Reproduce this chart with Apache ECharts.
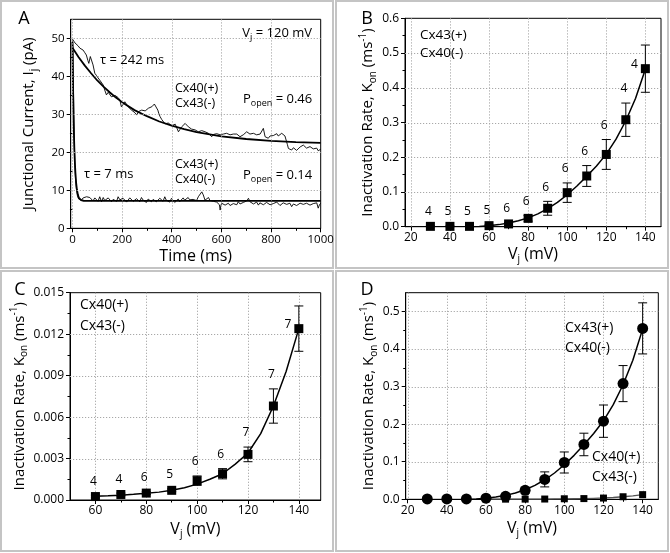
<!DOCTYPE html>
<html><head><meta charset="utf-8">
<script src="https://cdn.jsdelivr.net/npm/echarts@6/dist/echarts.min.js"></script>
<style>html,body{margin:0;padding:0;background:#fff}#c{width:670px;height:553px}</style>
</head><body><div id="c"></div>
<script>
// ---------- Panel A: junctional current traces (time ms, current pA) ----------
const upperTrace = [[0,49.8],[3,49.5],[10,48.8],[16,49.1],[23,48.0],[30,47.4],[43,46.9],[50,46.2],[56,45.6],[62,44.2],[66,43.4],[72,45.2],[77,44.7],[83,43.0],[90,40.8],[97,40.2],[103,39.6],[110,39.0],[117,39.5],[124,37.7],[130,36.4],[137,35.1],[144,35.8],[150,36.0],[157,34.6],[164,34.2],[171,35.0],[177,35.1],[184,34.4],[191,33.8],[197,32.0],[204,32.6],[211,33.3],[218,32.6],[224,32.0],[231,31.6],[238,31.1],[245,30.8],[252,30.4],[259,29.8],[266,30.7],[272,30.9],[279,31.1],[286,30.6],[293,30.9],[300,31.2],[306,31.6],[313,31.2],[320,32.0],[325,32.3],[330,32.7],[336,32.4],[344,31.1],[348,30.2],[353,29.4],[360,28.6],[366,28.1],[373,27.5],[380,27.2],[386,27.7],[393,27.6],[400,27.0],[407,26.9],[414,27.4],[420,27.2],[427,25.4],[433,26.0],[440,26.7],[447,27.0],[454,27.6],[460,27.1],[467,26.7],[474,26.3],[480,26.1],[487,25.7],[494,25.9],[500,25.6],[507,25.4],[514,25.9],[521,25.7],[528,25.2],[534,25.4],[541,25.1],[548,25.0],[554,24.6],[561,24.1],[568,24.7],[574,25.0],[581,24.9],[588,24.6],[595,24.6],[601,25.0],[608,24.8],[615,24.4],[621,25.0],[628,24.9],[635,24.6],[642,24.3],[648,24.8],[655,25.1],[662,24.8],[668,24.5],[675,24.1],[682,24.4],[688,24.6],[695,25.0],[702,25.4],[709,24.9],[715,24.8],[722,24.5],[729,25.0],[735,24.7],[742,24.6],[749,25.1],[756,24.8],[762,25.2],[769,26.3],[776,24.1],[782,24.0],[789,23.7],[796,24.3],[803,24.8],[809,24.4],[816,24.6],[823,24.9],[829,24.3],[836,24.6],[843,25.0],[849,24.6],[856,24.3],[863,24.1],[866,22.0],[870,21.0],[876,20.8],[883,20.6],[890,21.2],[897,21.0],[903,20.5],[910,20.8],[917,21.4],[923,21.3],[930,21.9],[937,21.6],[943,21.1],[950,21.0],[957,21.5],[964,21.3],[970,20.9],[977,20.8],[984,21.1],[990,20.4],[995,20.9],[1000,20.8]];
const lowerTrace = [[0,49.5],[2,48],[4,38],[6,28],[8,21],[10,16.5],[12,13.5],[14,11.8],[16,10.3],[20,8.6],[25,7.7],[30,7.9],[36,7.4],[43,8.0],[50,7.9],[57,8.3],[63,8.8],[70,8.1],[77,8.3],[83,7.2],[90,8.0],[97,7.7],[103,7.1],[110,8.3],[117,7.0],[124,8.1],[130,7.3],[137,7.4],[144,8.0],[150,7.9],[157,7.0],[164,7.6],[171,7.7],[178,7.1],[184,8.3],[191,7.5],[197,7.0],[204,7.9],[211,7.7],[218,6.9],[224,7.2],[231,8.0],[238,7.9],[245,7.1],[251,7.0],[258,7.8],[264,7.4],[271,7.0],[278,8.1],[285,7.4],[291,7.2],[298,6.8],[305,7.7],[311,7.3],[318,7.0],[325,7.6],[332,7.9],[338,7.0],[345,7.2],[352,7.9],[358,7.7],[365,7.1],[372,8.3],[378,7.4],[385,7.2],[392,6.9],[399,7.9],[405,7.5],[412,6.8],[419,7.3],[426,7.7],[432,7.0],[439,7.2],[446,8.0],[452,7.4],[459,7.0],[466,8.1],[472,7.5],[479,7.0],[486,7.6],[493,7.7],[500,7.3],[507,8.3],[514,8.0],[521,9.6],[524,9.9],[527,8.8],[534,7.4],[541,7.6],[548,8.1],[554,7.3],[561,7.7],[568,7.1],[574,7.4],[581,6.9],[588,7.2],[592,6.2],[595,4.8],[598,6.0],[601,6.6],[608,6.9],[615,6.1],[621,6.5],[628,6.6],[635,6.0],[642,5.7],[648,6.5],[655,6.6],[662,6.2],[668,7.0],[675,6.4],[682,6.1],[688,6.8],[695,6.6],[702,7.2],[709,7.9],[715,7.0],[722,7.4],[729,6.4],[735,6.8],[742,6.9],[749,6.1],[755,6.7],[762,6.6],[769,6.2],[776,5.9],[782,6.8],[789,6.6],[796,6.2],[803,5.7],[809,6.5],[816,6.3],[823,6.9],[829,6.6],[836,6.0],[843,5.9],[849,6.7],[856,6.6],[863,6.3],[870,6.1],[876,6.6],[883,5.7],[890,6.4],[897,6.6],[903,6.0],[910,6.1],[917,6.6],[923,6.8],[930,6.3],[937,5.9],[943,6.6],[950,6.6],[957,6.1],[964,5.7],[970,6.5],[977,6.3],[984,6.7],[990,5.3],[995,6.2],[1000,6.6]];
const upperFit = [[0,47.5],[25,45.0],[50,42.8],[75,40.8],[100,38.9],[125,37.3],[150,35.8],[175,34.4],[200,33.2],[250,31.1],[300,29.5],[350,28.1],[400,27.0],[450,26.1],[500,25.3],[600,24.2],[700,23.5],[800,23.0],[900,22.7],[1000,22.5]];
const lowerFit = [[0,49],[2,38.5],[4,30.7],[6,24.8],[8,20.4],[10,17.1],[12,14.6],[15,11.9],[18,10.2],[22,8.8],[26,8.0],[30,7.6],[35,7.4],[45,7.25],[60,7.2],[1000,7.2]];

// ---------- Panels B / D: Cx43(+) Cx40(-) ----------
const voltsB = [30,40,50,60,70,80,90,100,110,120,130,140];
const kB     = [0.001,0.001,0.001,0.003,0.008,0.024,0.053,0.098,0.146,0.208,0.308,0.455];
const errB   = [0.001,0.001,0.001,0.002,0.004,0.008,0.020,0.028,0.030,0.043,0.048,0.068];
const nB     = [4,5,5,5,6,6,6,6,6,6,4,4];
const fitB   = [[50,0],[55,0.0008],[60,0.003],[65,0.006],[70,0.0105],[75,0.017],[80,0.0255],[85,0.037],[90,0.052],[95,0.07],[100,0.092],[105,0.117],[110,0.145],[115,0.175],[120,0.209],[125,0.252],[130,0.305],[135,0.37],[140,0.453]];

// ---------- Panels C / D: Cx40(+) Cx43(-) ----------
const voltsC = [60,70,80,90,100,110,120,130,140];
const kC     = [0.00025,0.0004,0.0005,0.0007,0.0014,0.0019,0.0033,0.0068,0.0124];
const errC   = [0.0001,0.0001,0.0001,0.0001,0.00034,0.00037,0.00053,0.00124,0.00164];
const nC     = [4,4,6,5,6,6,7,7,7];
const fitC   = [[60,0.00027],[65,0.0003],[70,0.00035],[75,0.00041],[80,0.00048],[85,0.00057],[90,0.0007],[95,0.00088],[100,0.00115],[105,0.0015],[110,0.0019],[115,0.0026],[120,0.0034],[125,0.0048],[130,0.0068],[135,0.0093],[140,0.0124]];

// ---------- tick values ----------
const xTicksA = [0,200,400,600,800,1000], xMinorA = [100,300,500,700,900];
const yTicksA = [0,10,20,30,40,50], yMinorA = [5,15,25,35,45];
const xTicksB = [20,40,60,80,100,120,140], xMinorB = [30,50,70,90,110,130];
const yTicksB = [0,0.1,0.2,0.3,0.4,0.5,0.6], yMinorB = [0.05,0.15,0.25,0.35,0.45,0.55];
const xTicksC = [60,80,100,120,140], xMinorC = [70,90,110,130];
const yTicksC = [0,0.003,0.006,0.009,0.012,0.015], yMinorC = [0.0015,0.0045,0.0075,0.0105,0.0135];
const yTicksD = [0,0.1,0.2,0.3,0.4,0.5], yMinorD = [0.05,0.15,0.25,0.35,0.45];

const FONT = 'Open Sans';
const RICH = {
  sub: {fontSize: 10, lineHeight: 10, verticalAlign: 'bottom', fontFamily: FONT, color: '#000'},
  sup: {fontSize: 10, lineHeight: 10, verticalAlign: 'top', fontFamily: FONT, color: '#000'}
};
const kName = 'Inactivation Rate, K{sub|on} (ms{sup|-1})';
const vName = 'V{sub|j} (mV)';

const panels = [
  {left:70.7, top:19.3, width:250, height:209, xMin:-7, xMax:1000, xT:xTicksA, xM:xMinorA, yMax:55, yT:yTicksA, yM:yMinorA, fmt:v=>String(v), lab:11.5,
   xName:'Time (ms)', yName:'Junctional Current, I{sub|j} (pA)', xGap:9, yGap:32},
  {left:405, top:18.3, width:256, height:208.4, xMin:17, xMax:148, xT:xTicksB, xM:xMinorB, yMax:0.6, yT:yTicksB, yM:yMinorB, fmt:v=>v.toFixed(1), lab:12,
   xName:vName, yName:kName, xGap:11, yGap:17},
  {left:70, top:292.7, width:250.7, height:207.3, xMin:50, xMax:148.6, xT:xTicksC, xM:xMinorC, yMax:0.015, yT:yTicksC, yM:yMinorC, fmt:v=>v.toFixed(3), lab:12,
   xName:vName, yName:kName, xGap:19, yGap:40},
  {left:405.7, top:292.7, width:252.6, height:206.6, xMin:19, xMax:148, xT:xTicksB, xM:xMinorB, yMax:0.55, yT:yTicksD, yM:yMinorD, fmt:v=>v.toFixed(1), lab:12,
   xName:vName, yName:kName, xGap:19, yGap:24}
];

const grids = [], xAxes = [], yAxes = [];
panels.forEach((p, i) => {
  grids.push({left:p.left, top:p.top, width:p.width, height:p.height, show:true, borderColor:'#000', borderWidth:1,
              backgroundColor:'transparent', containLabel:false, outerBoundsMode:'none'});
  const nameStyle = {fontFamily:FONT, color:'#000', lineHeight:20, rich:RICH};
  xAxes.push({type:'value', gridIndex:i, position:'bottom', min:p.xMin, max:p.xMax,
    name:p.xName, nameLocation:'middle', nameGap:p.xGap, nameTextStyle:Object.assign({fontSize:16}, nameStyle),
    axisLine:{show:true, onZero:false, lineStyle:{color:'#000', width:1}},
    axisTick:{show:true, inside:false, length:4, customValues:p.xT, lineStyle:{color:'#000'}},
    axisLabel:{show:true, customValues:p.xT, margin:5, fontSize:p.lab, fontFamily:FONT, color:'#000', formatter:v=>String(v)},
    splitLine:{show:false}});
  xAxes.push({type:'value', gridIndex:i, position:'bottom', min:p.xMin, max:p.xMax,
    axisLine:{show:false}, axisLabel:{show:false}, splitLine:{show:false},
    axisTick:{show:true, inside:false, length:2.5, customValues:p.xM, lineStyle:{color:'#000'}}});
  yAxes.push({type:'value', gridIndex:i, position:'left', min:0, max:p.yMax,
    name:p.yName, nameLocation:'middle', nameGap:p.yGap, nameRotate:90, nameTextStyle:Object.assign({fontSize:15}, nameStyle),
    axisLine:{show:true, onZero:false, lineStyle:{color:'#000', width:1}},
    axisTick:{show:true, inside:false, length:4, customValues:p.yT, lineStyle:{color:'#000'}},
    axisLabel:{show:true, customValues:p.yT, margin:6, fontSize:p.lab, fontFamily:FONT, color:'#000', formatter:p.fmt},
    splitLine:{show:false}});
  yAxes.push({type:'value', gridIndex:i, position:'left', min:0, max:p.yMax,
    axisLine:{show:false}, axisLabel:{show:false}, splitLine:{show:false},
    axisTick:{show:true, inside:false, length:2.5, customValues:p.yM, lineStyle:{color:'#000'}}});
});

function lineSeries(data, panel, color, width) {
  return {type:'line', xAxisIndex:2*panel, yAxisIndex:2*panel, data:data, symbol:'none', smooth:false,
          lineStyle:{color:color, width:width}, z:3, silent:true};
}
// dotted grid lines at the major tick values, placed through the panel's own axes
function gridLineSeries(panel, z) {
  const p = panels[panel];
  const xs = p.xT.filter(v => v > p.xMin && v < p.xMax).map(v => [v, p.yMax / 2, 0]);
  const ys = p.yT.filter(v => v > 0 && v < p.yMax).map(v => [(p.xMin + p.xMax) / 2, v, 1]);
  return {type:'custom', xAxisIndex:2*panel, yAxisIndex:2*panel, z:z, silent:true, clip:false,
    data: xs.concat(ys),
    renderItem(params, api) {
      const cs = params.coordSys;
      const pt = api.coord([api.value(0), api.value(1)]);
      const shape = api.value(2) === 0
        ? {x1:Math.round(pt[0])+0.5, y1:cs.y, x2:Math.round(pt[0])+0.5, y2:cs.y+cs.height}
        : {x1:cs.x, y1:Math.round(pt[1])+0.5, x2:cs.x+cs.width, y2:Math.round(pt[1])+0.5};
      return {type:'line', shape:shape, style:{stroke:'#a8a8a8', lineWidth:1, lineDash:[1.2,1.8], fill:null}};
    }};
}
function scatterSeries(volts, k, panel, symbol, size) {
  return {type:'scatter', xAxisIndex:2*panel, yAxisIndex:2*panel, data:volts.map((v,i)=>[v,k[i]]),
          symbol:symbol, symbolSize:size, itemStyle:{color:'#000', opacity:1}, z:6, silent:true};
}
function errSeries(volts, k, err, n, panel) {
  return {type:'custom', xAxisIndex:2*panel, yAxisIndex:2*panel, z:5, silent:true, clip:false,
    data: volts.map((v,i)=>[v, k[i], err[i], n ? n[i] : 0]),
    renderItem(params, api) {
      const x = api.value(0), y = api.value(1), e = api.value(2);
      const c = api.coord([x,y]), t = api.coord([x,y+e]), b = api.coord([x,Math.max(0,y-e)]);
      const hw = 4.5, st = {stroke:'#000', lineWidth:1, fill:null};
      const ch = [
        {type:'line', shape:{x1:c[0],y1:t[1],x2:c[0],y2:b[1]}, style:st},
        {type:'line', shape:{x1:c[0]-hw,y1:t[1],x2:c[0]+hw,y2:t[1]}, style:st},
        {type:'line', shape:{x1:c[0]-hw,y1:b[1],x2:c[0]+hw,y2:b[1]}, style:st}
      ];
      if (n) {
        const plotTop = params.coordSys.y;
        let lx, ly;
        if (t[1] - 14 < plotTop + 16) { lx = c[0] - 11; ly = c[1] - 4; }
        else { lx = c[0] - 2; ly = t[1] - 14; }
        ch.push({type:'text', style:{text:String(api.value(3)), x:lx, y:ly, align:'center', verticalAlign:'middle',
                 fontSize:12, fontFamily:FONT, fill:'#000'}});
      }
      return {type:'group', children:ch};
    }};
}

const series = [
  lineSeries(upperTrace, 0, '#000', 0.9),
  lineSeries(lowerTrace, 0, '#000', 0.9),
  lineSeries(upperFit, 0, '#000', 1.8),
  lineSeries(lowerFit, 0, '#000', 1.8),
  lineSeries(fitB, 1, '#000', 1.5),
  errSeries(voltsB, kB, errB, nB, 1),
  scatterSeries(voltsB, kB, 1, 'rect', 9),
  lineSeries(fitC, 2, '#000', 1.5),
  errSeries(voltsC, kC, errC, nC, 2),
  scatterSeries(voltsC, kC, 2, 'rect', 9),
  lineSeries(fitC, 3, '#555', 1.3),
  scatterSeries(voltsC, kC, 3, 'rect', 7),
  lineSeries(fitB, 3, '#000', 1.5),
  errSeries(voltsB, kB, errB, null, 3),
  scatterSeries(voltsB, kB, 3, 'circle', 11),
  gridLineSeries(1, 1), gridLineSeries(2, 1), gridLineSeries(3, 1), gridLineSeries(0, 4)
];

// ---------- graphics: panel frames, letters, annotations ----------
const graphics = [];
[[1,1,332,267],[336,1,332,267],[1,271,332,280],[336,271,332,280]].forEach(r => graphics.push(
  {type:'rect', shape:{x:r[0],y:r[1],width:r[2],height:r[3]}, style:{fill:null, stroke:'#c4c4c4', lineWidth:2}, silent:true, z:0}));
[['A',24,19],['B',367,19],['C',20,290],['D',367,290]].forEach(l => graphics.push(
  {type:'text', x:l[1], y:l[2], style:{text:l[0], fontSize:18, fontFamily:FONT, fill:'#000', align:'center', verticalAlign:'middle'}, z:10}));
const notes = [
  ['V{sub|j} = 120 mV', 312, 33, 13, 'right'],
  ['τ = 242 ms', 100, 60, 13, 'left'],
  ['Cx40(+)', 175, 88, 12.5, 'left'], ['Cx43(-)', 175, 103, 12.5, 'left'],
  ['P{sub|open} = 0.46', 243, 99, 13, 'left'],
  ['τ = 7 ms', 84, 174, 13, 'left'],
  ['Cx43(+)', 175, 164, 12.5, 'left'], ['Cx40(-)', 175, 179, 12.5, 'left'],
  ['P{sub|open} = 0.14', 243, 175, 13, 'left'],
  ['Cx43(+)', 420, 35, 13.5, 'left'], ['Cx40(-)', 420, 53, 13.5, 'left'],
  ['Cx40(+)', 80, 305, 14, 'left'], ['Cx43(-)', 80, 326, 14, 'left'],
  ['Cx43(+)', 565, 328, 14, 'left'], ['Cx40(-)', 565, 348, 14, 'left'],
  ['Cx40(+)', 592, 457, 14, 'left'], ['Cx43(-)', 592, 477, 14, 'left']
];
notes.forEach(n => graphics.push({type:'text', x:n[1], y:n[2], z:10, silent:true,
  style:{text:n[0], fontSize:n[3], fontFamily:FONT, fill:'#000', align:n[4], verticalAlign:'middle', lineHeight:18,
         rich:{sub:{fontSize:9, lineHeight:9, verticalAlign:'bottom', fontFamily:FONT, fill:'#000'}}}}));

const chart = echarts.init(document.getElementById('c'), null, {renderer:'canvas'});
chart.setOption({
  backgroundColor:'#fff', animation:false,
  grid:grids, xAxis:xAxes, yAxis:yAxes, series:series, graphic:{elements:graphics}
});
</script>
</body></html>
